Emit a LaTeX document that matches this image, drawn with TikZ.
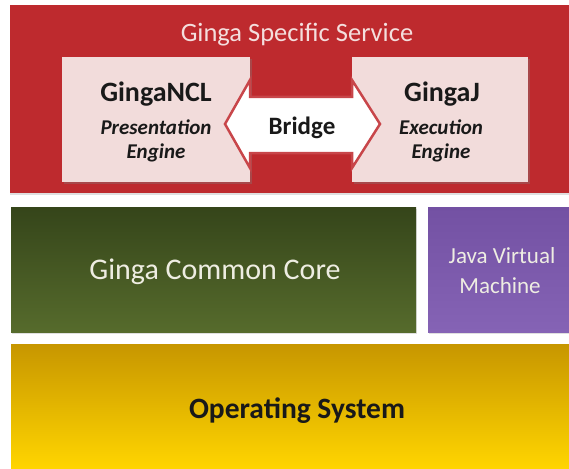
\documentclass[tikz,border=0pt]{standalone}
\usepackage{fontspec}
\setmainfont{Carlito}
\usepackage{tikz}
\usetikzlibrary{positioning, calc, shadows}

\definecolor{serviceRed}{HTML}{BE2A2E}
\definecolor{titlePink}{HTML}{F4DEDD}
\definecolor{enginePink}{HTML}{F2DCDB}
\definecolor{bridgeRed}{HTML}{C8464A}
\definecolor{coreTop}{HTML}{35451A}
\definecolor{coreBottom}{HTML}{566B2C}
\definecolor{jvmTop}{HTML}{7351A3}
\definecolor{jvmBottom}{HTML}{8563B5}
\definecolor{osTop}{HTML}{C79600}
\definecolor{osBottom}{HTML}{FFD500}
\definecolor{lightText}{HTML}{EEEDE2}

\tikzset{
  layer/.style={anchor=north west, inner sep=0pt, outer sep=0pt},
  engine/.style={layer, fill=enginePink, minimum height=125pt,
    drop shadow={opacity=0.35, shadow xshift=2pt, shadow yshift=-2pt}},
  txt/.style={anchor=base, inner sep=0pt},
  headtxt/.style={txt, font=\fontsize{28}{32}\selectfont\bfseries, text=black!90},
  roletxt/.style={txt, font=\fontsize{21}{24}\selectfont\bfseries\itshape, text=black!90}
}

\begin{document}
\begin{tikzpicture}[x=1pt, y=-1pt]
    \useasboundingbox (0,0) rectangle (569,468);

    % Ginga Specific Service
    \node[layer, fill=serviceRed, minimum width=559pt, minimum height=188pt,
          drop shadow={opacity=0.25, shadow xshift=0pt, shadow yshift=-2pt}] (service) at (10,5) {};
    \node[txt, text=titlePink, font=\fontsize{26.5}{30}\selectfont] (servicename) at (297,42) {Ginga Specific Service};

    \node[engine, minimum width=188pt] (ncl) at (62,57) {};
    \node[engine, minimum width=176pt] (gingaj) at (352,57) {};

    \node[headtxt] (nclname) at (156,102) {GingaNCL};
    \node[roletxt] (nclrole) at (156,134) {Presentation};
    \node[roletxt] (nclengine) at (156,158) {Engine};

    \node[headtxt] (jname) at (442,102) {GingaJ};
    \node[roletxt] (jrole) at (441,134) {Execution};
    \node[roletxt] (jengine) at (441,158) {Engine};

    % Bridge
    \draw[bridgeRed, line width=2.5pt, fill=white, line join=miter]
        ($(ncl.east)+(-25,4.5)$) -- ($(ncl.north east)+(0,23)$) -- ($(ncl.north east)+(0,40)$)
        -- ($(gingaj.north west)+(0,40)$) -- ($(gingaj.north west)+(0,23)$)
        -- ($(gingaj.west)+(28,4.5)$) -- ($(gingaj.south west)+(0,-14)$)
        -- ($(gingaj.south west)+(0,-29)$) -- ($(ncl.south east)+(0,-29)$)
        -- ($(ncl.south east)+(0,-14)$) -- cycle;
    \node[txt, font=\fontsize{25}{28}\selectfont\bfseries, text=black!90] (bridge) at (302,134) {Bridge};

    % Ginga Common Core and Java Virtual Machine
    \node[layer, top color=coreTop, bottom color=coreBottom, minimum width=405pt, minimum height=125pt,
          drop shadow={opacity=0.25, shadow xshift=1pt, shadow yshift=-2pt}] (core) at (11,207) {};
    \node[txt, text=lightText, font=\fontsize{30}{34}\selectfont] (corename) at (215,279) {Ginga Common Core};

    \node[layer, top color=jvmTop, bottom color=jvmBottom, minimum width=141pt, minimum height=125pt,
          drop shadow={opacity=0.25, shadow xshift=1pt, shadow yshift=-2pt}] (jvm) at (428,207) {};
    \node[txt, text=lightText, font=\fontsize{23}{26}\selectfont] (jvmname) at (502,263) {Java Virtual};
    \node[txt, text=lightText, font=\fontsize{23}{26}\selectfont] (jvmname2) at (500,293) {Machine};

    % Operating System
    \node[layer, top color=osTop, bottom color=osBottom, minimum width=558pt, minimum height=124pt] (os) at (11,344) {};
    \node[txt, text=black!90, font=\fontsize{29.5}{33}\selectfont\bfseries] (osname) at (297,418) {Operating System};
\end{tikzpicture}
\end{document}
